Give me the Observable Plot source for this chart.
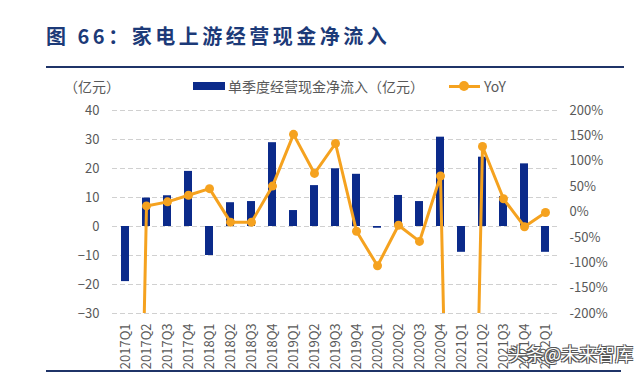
<!DOCTYPE html>
<html><head><meta charset="utf-8">
<script src="https://cdn.jsdelivr.net/npm/d3@7"></script>
<script src="https://cdn.jsdelivr.net/npm/@observablehq/plot@0.6"></script>
<style>
body{margin:0;background:#fff;width:640px;height:377px;position:relative;overflow:hidden;font-family:"Noto Sans CJK SC","Noto Sans",sans-serif;}
.abs{position:absolute;white-space:nowrap;}
#title{left:46px;top:24px;font-size:20px;line-height:24px;font-weight:700;color:#1c3a78;letter-spacing:3.5px;}
#rule1{left:46px;top:66px;width:578px;height:2px;background:#1f3468;}
#rule2{left:46px;top:370px;width:575px;height:2px;background:#1f3468;}
#unit{left:64px;top:77px;font-size:14px;line-height:18px;color:#595959;}
#lgRect{left:193px;top:82px;width:32px;height:8px;background:#0b2a8a;}
#lgText{left:228px;top:77px;font-size:14px;line-height:18px;color:#595959;}
#lgLine{left:449px;top:85px;width:31px;height:3px;background:#f5a21f;}
#lgDot{left:459px;top:81px;width:10px;height:10px;border-radius:50%;background:#f5a21f;}
#lgYoy{left:484px;top:77px;font-size:14px;line-height:18px;color:#595959;}
#chart{left:0;top:95px;}
#wm{left:508px;top:342px;font-size:18px;line-height:22px;color:#fff;text-shadow:1px 1px 0 #555,-1px -1px 0 #555,1px -1px 0 #555,-1px 1px 0 #555;}
</style></head>
<body>
<div class="abs" id="title">图 66：家电上游经营现金净流入</div>
<div class="abs" id="rule1"></div>
<div class="abs" id="unit">（亿元）</div>
<div class="abs" id="lgRect"></div>
<div class="abs" id="lgText">单季度经营现金净流入（亿元）</div>
<div class="abs" id="lgLine"></div>
<div class="abs" id="lgDot"></div>
<div class="abs" id="lgYoy">YoY</div>
<div class="abs" id="chart"></div>
<div class="abs" id="rule2"></div>
<div class="abs" id="wm">头条@未来智库</div>
<script>
const quarters = ["2017Q1","2017Q2","2017Q3","2017Q4","2018Q1","2018Q2","2018Q3","2018Q4","2019Q1","2019Q2","2019Q3","2019Q4","2020Q1","2020Q2","2020Q3","2020Q4","2021Q1","2021Q2","2021Q3","2021Q4","2022Q1"];
const cashFlow = [-19, 9.8, 10.6, 19, -10, 8.2, 8.6, 28.9, 5.5, 14.1, 19.9, 18, -0.6, 10.7, 8.6, 30.8, -8.9, 23.9, 10.3, 21.6, -8.9];
const yoyPct = [-2000, 12, 20, 33, 46, -20, -20, 51, 153, 76, 135, -38, -106, -26, -58, 71, -1800, 129, 26, -29, -1];
const leftTicks = [-30, -20, -10, 0, 10, 20, 30, 40];
const rightTicks = [-200, -150, -100, -50, 0, 50, 100, 150, 200];

const toLeft = p => -30 + (p + 200) * 70 / 400;
const toPct = v => Math.round((v + 30) * 400 / 70 - 200);

const data = quarters.map((q, i) => ({q, cash: cashFlow[i], yoy: toLeft(yoyPct[i])}));
const font = '"Noto Sans CJK SC","Noto Sans",sans-serif';
const chart = Plot.plot({
  width: 640, height: 282,
  marginTop: 15, marginBottom: 64, marginLeft: 112, marginRight: 83,
  style: {fontSize: "13px", fontFamily: font, color: "#595959", background: "transparent"},
  x: {type: "band", domain: quarters, paddingInner: 0.63, paddingOuter: 0.315, label: null},
  y: {domain: [-30, 40], label: null},
  marks: [
    Plot.gridY(leftTicks, {stroke: "#d0d0d0", strokeOpacity: 1, strokeDasharray: "5,3"}),
    Plot.barY(data, {x: "q", y: "cash", fill: "#0b2a8a"}),
    Plot.line(data, {x: "q", y: "yoy", stroke: "#f5a21f", strokeWidth: 3, clip: true}),
    Plot.dot(data, {x: "q", y: "yoy", r: 4.5, fill: "#f5a21f", clip: true}),
    Plot.axisY(leftTicks, {anchor: "left", tickSize: 0, tickPadding: 13, label: null}),
    Plot.axisY(rightTicks.map(toLeft), {anchor: "right", tickSize: 0, tickPadding: 12, label: null, tickFormat: d => toPct(d) + "%"}),
    Plot.axisX({tickRotate: -90, tickSize: 0, tickPadding: 10, label: null})
  ]
});
document.getElementById("chart").appendChild(chart);
</script>
</body></html>
